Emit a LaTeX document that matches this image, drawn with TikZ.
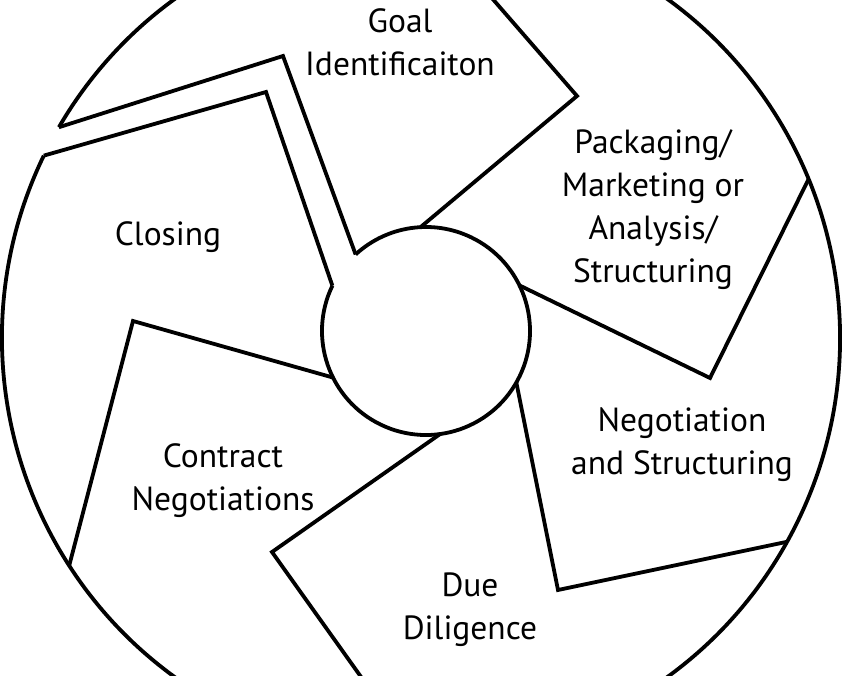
\documentclass[tikz,border=0pt]{standalone}
\usepackage{fontspec}
\setmainfont{PT Sans}
\usetikzlibrary{calc}

\begin{document}
\begin{tikzpicture}[x=1pt, y=1pt,
every node/.style={font=\fontsize{33.5}{43}\selectfont},
phase/.style={align=center, inner sep=0pt},
blade/.style={line width=3.8pt, line join=miter}
]
\useasboundingbox (0,0) rectangle (843,675);
\clip (0,0) rectangle (843,675);
\coordinate (O) at (421,337);
\coordinate (I) at (426,344);

% outer and inner rings, both left open at the passage
\draw[blade] ($(O)+(154.2:419)$) arc[start angle=154.2, end angle=509.8, radius=419];
\draw[blade] ($(I)+(154.2:104)$) arc[start angle=154.2, end angle=492.6, radius=104];

% the passage between Closing and Goal
\draw[blade] ($(I)+(132.6:104)$) -- (283,619) -- ($(O)+(149.8:419)$);
\draw[blade] ($(I)+(154.2:104)$) -- (266,583) -- ($(O)+(154.2:419)$);

% separators
\draw[blade] ($(I)+(93:104)$)    -- (577,579) -- ($(O)+(89.7:419)$);
\draw[blade] ($(I)+(26:104)$)    -- (710,297) -- ($(O)+(22.3:419)$);
\draw[blade] ($(I)+(-29.7:104)$) -- (558,85)  -- ($(O)+(-29.1:419)$);
\draw[blade] ($(I)+(-82.2:104)$) -- (272,123) -- ($(O)+(-90.4:419)$);
\draw[blade] ($(I)+(206.6:104)$) -- (133,354) -- ($(O)+(212.9:419)$);

\node (goal)    [phase] at (400,633) {Goal\\Identificaiton};
\node (pack)    [phase] at (653,465) {Packaging/\\Marketing or\\Analysis/\\Structuring};
\node (closing) [phase] at (168,438) {Closing};
\node (contract)[phase] at (223,194) {Contract\\Negotiations};
\node (nego)    [phase] at (682,230) {Negotiation\\and Structuring};
\node (due)     [phase] at (470,65)  {Due\\Diligence};
\end{tikzpicture}
\end{document}
